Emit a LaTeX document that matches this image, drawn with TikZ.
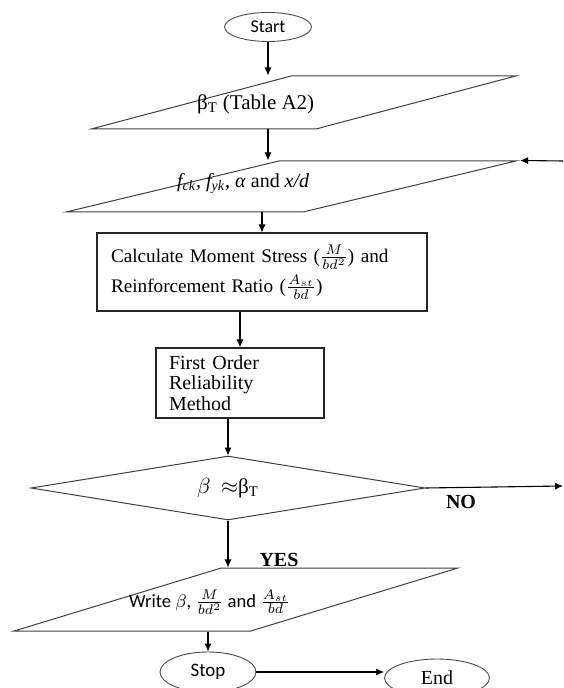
\documentclass[tikz,border=0pt]{standalone}
\usepackage{fontspec}
\setmainfont{Liberation Serif}
\newfontfamily\calibri{Carlito}
\usetikzlibrary{shapes.geometric,arrows.meta}

\tikzset{
	io/.style={trapezium, draw=black!75, line width=0.5pt, trapezium stretches=true, inner sep=2pt},
	proc/.style={rectangle, draw=black!85, line width=0.55pt, align=left, inner xsep=7pt},
	term/.style={ellipse, draw=black!70, line width=0.45pt, inner sep=0pt},
	dec/.style={diamond, draw=black!75, line width=0.5pt, aspect=6.2, inner sep=0pt},
	arr/.style={-{Latex[length=4pt,width=3.6pt]}, line width=0.55pt},
	lbl/.style={font=\fontsize{10}{12}\selectfont\bfseries, inner sep=0pt}
}

\begin{document}
\begin{tikzpicture}[x=0.5pt,y=-0.5pt]
		\useasboundingbox (0,0) rectangle (563,688);
		\clip (0,0) rectangle (563,688);
		
		\node[term, minimum width=43.5pt, minimum height=14.5pt, font=\calibri\fontsize{9}{11}\selectfont] (start) at (268,27) {Start};
		
		\node[io, trapezium left angle=26.35, trapezium right angle=153.65, minimum width=213.5pt, minimum height=26.5pt] (tbl) at (303.5,102.5) {\strut};
		\node[anchor=west, font=\fontsize{10.5}{12}\selectfont] (tbltxt) at (190,104) {β\textsubscript{T} (Table A2)};
		
		\node[io, trapezium left angle=24.3, trapezium right angle=155.7, minimum width=226pt, minimum height=25.5pt] (inp) at (291,186.5) {\strut};
		\node[anchor=west, font=\fontsize{10}{12}\selectfont] (inptxt) at (170,183) {\textit{f\textsubscript{ck}, f\textsubscript{yk}, α} and \textit{x/d}};
		
		\node[proc, minimum width=165pt, minimum height=39pt, text width=151pt, font=\fontsize{9.6}{15}\selectfont] (calc) at (262,272) {Calculate Moment Stress ($\frac{M}{bd^2}$) and\\ Reinforcement Ratio ($\frac{A_{st}}{bd}$)\par\vspace{4pt}};
		
		\node[proc, minimum width=84pt, minimum height=35pt, text width=71pt, inner xsep=6.5pt, font=\fontsize{10}{10.3}\selectfont] (form) at (240,383) {First Order\\ Reliability\\ Method};
		
		\node[dec, minimum width=197pt, minimum height=32pt, font=\fontsize{10.5}{12}\selectfont] (check) at (228,488) {$\beta$\ \ $\approx$β\textsubscript{T}};
		
		\node[io, trapezium left angle=29.6, trapezium right angle=150.4, minimum width=223pt, minimum height=31.5pt] (out) at (236,599.5) {\strut};
		\node[anchor=west, font=\calibri\fontsize{9.3}{11}\selectfont] (outtxt) at (122,602) {Write $\beta$, $\frac{M}{bd^2}$ and $\frac{A_{st}}{bd}$};
		
		\node[term, minimum width=48pt, minimum height=20pt, font=\calibri\fontsize{9.5}{11}\selectfont] (stop) at (208,672) {Stop};
		\node[term, minimum width=52.5pt, minimum height=19pt, font=\fontsize{10}{12}\selectfont] (end) at (437,678) {End};
		
		\node[lbl] (yes) at (279,560) {YES};
		\node[lbl] (no) at (461,502) {NO};
		
		\coordinate (loopin) at (563,161);
		\coordinate (loopout) at (563,486);
		
		\draw[arr] (start) -- (start |- tbl.north);
		\draw[arr] (start |- tbl.south) -- (start |- inp.north);
		\draw[arr] (calc.north |- inp.south) -- (calc.north);
		\draw[arr] (form.north |- calc.south) -- (form.north);
		\draw[arr] (check.north |- form.south) -- (check.north);
		\draw[arr] (check.south) -- (check.south |- out.north);
		\draw[arr] (stop.north |- out.south) -- (stop.north);
		\draw[arr] (stop.east) -- (stop.east -| end.west);
		\draw[arr] (check.east) -- (loopout);
		\draw[arr] (loopin) -- (inp.top right corner);
		
\end{tikzpicture}
\end{document}
